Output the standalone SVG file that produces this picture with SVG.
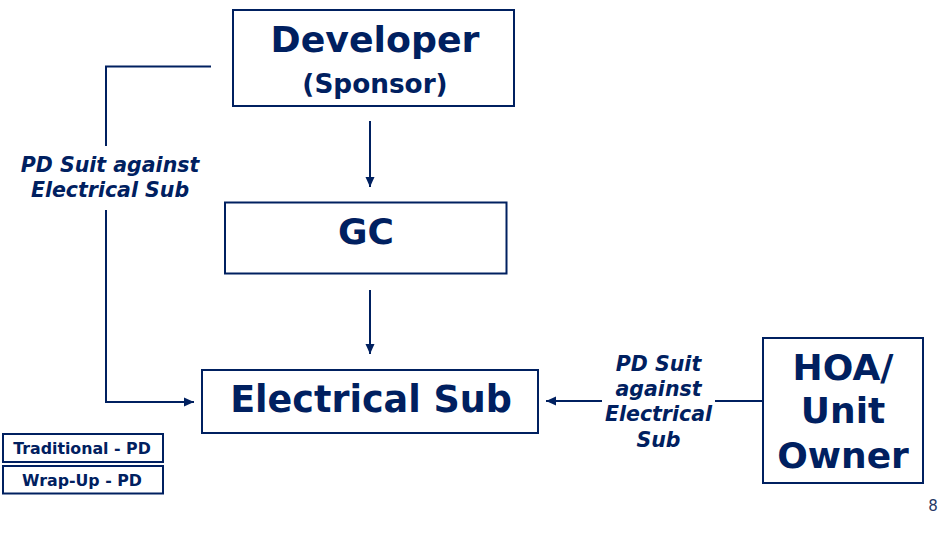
<svg xmlns="http://www.w3.org/2000/svg" width="948" height="550" viewBox="0 0 948 550">
  <defs>
    <style>
      .box { fill: #ffffff; stroke: #002060; stroke-width: 2; }
      .t { font-family: "DejaVu Sans", Verdana, sans-serif; font-weight: bold; fill: #002060; text-anchor: middle; }
      .lbl { font-family: "DejaVu Sans", Verdana, sans-serif; font-weight: bold; font-style: italic; fill: #002060; text-anchor: middle; font-size: 20.5px; }
      .ln { fill: none; stroke: #002060; stroke-width: 2; }
    </style>
    <marker id="ah" markerUnits="userSpaceOnUse" markerWidth="10" markerHeight="10" viewBox="0 0 10 10" refX="10" refY="5" orient="auto">
      <path d="M0,0.5 L10,5 L0,9.5 Z" fill="#002060"/>
    </marker>
  </defs>
  <rect width="948" height="550" fill="#ffffff"/>

  <g id="connectors">
    <line class="ln" x1="370" y1="121" x2="370" y2="187" marker-end="url(#ah)"/>
    <line class="ln" x1="370" y1="290" x2="370" y2="354" marker-end="url(#ah)"/>
    <polyline class="ln" points="211,66.5 106,66.5 106,146"/>
    <polyline class="ln" points="106,210 106,402 194,402" marker-end="url(#ah)"/>
    <line class="ln" x1="762" y1="401" x2="715" y2="401"/>
    <line class="ln" x1="602" y1="401" x2="546" y2="401" marker-end="url(#ah)"/>
    <g id="label-left">
      <text class="lbl" x="110" y="171.5">PD Suit against</text>
      <text class="lbl" x="110" y="196.5">Electrical Sub</text>
    </g>
    <g id="label-right">
      <text class="lbl" x="658.5" y="370.5">PD Suit</text>
      <text class="lbl" x="658.5" y="396">against</text>
      <text class="lbl" x="658.5" y="421">Electrical</text>
      <text class="lbl" x="658.5" y="446.5">Sub</text>
    </g>
  </g>

  <g id="developer">
    <rect class="box" x="233" y="10" width="281" height="96"/>
    <text class="t" x="375" y="52" font-size="36.3">Developer</text>
    <text class="t" x="375" y="92.5" font-size="26.3">(Sponsor)</text>
  </g>

  <g id="gc">
    <rect class="box" x="225" y="202.5" width="281.5" height="71"/>
    <text class="t" x="366" y="244" font-size="36">GC</text>
  </g>

  <g id="electrical-sub">
    <rect class="box" x="202" y="370" width="336" height="63"/>
    <text class="t" x="371" y="412" font-size="36.5">Electrical Sub</text>
  </g>

  <g id="hoa">
    <rect class="box" x="763" y="338" width="160" height="145"/>
    <text class="t" x="843" y="379.5" font-size="36">HOA/</text>
    <text class="t" x="843" y="423" font-size="36">Unit</text>
    <text class="t" x="843" y="468" font-size="36">Owner</text>
  </g>

  <g id="traditional-pd">
    <rect class="box" x="3" y="434" width="160" height="28"/>
    <text class="t" x="82" y="454" font-size="15.8">Traditional - PD</text>
  </g>

  <g id="wrap-up-pd">
    <rect class="box" x="3" y="466" width="160" height="27.5"/>
    <text class="t" x="82" y="486" font-size="15.8">Wrap-Up - PD</text>
  </g>

  <text x="933" y="510.5" font-family="DejaVu Sans, Verdana, sans-serif" font-size="15" fill="#1f3864" text-anchor="middle">8</text>
</svg>
